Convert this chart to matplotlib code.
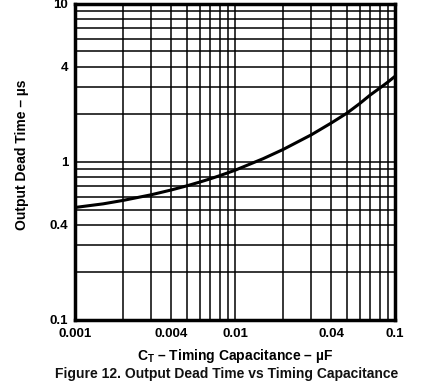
import matplotlib
matplotlib.use("Agg")
from matplotlib import pyplot as plt
from matplotlib.ticker import FixedLocator, LogLocator, NullFormatter

plt.rcParams['font.family'] = ['Liberation Sans', 'DejaVu Sans']
plt.rcParams['mathtext.fontset'] = 'custom'
plt.rcParams['mathtext.rm'] = 'Liberation Sans:bold'
plt.rcParams['mathtext.bf'] = 'Liberation Sans:bold'

# values
cap_uf = [0.001, 0.0015, 0.002, 0.003, 0.004, 0.005, 0.006, 0.007, 0.008,
          0.009, 0.01, 0.015, 0.02, 0.03, 0.04, 0.05, 0.06, 0.07, 0.08, 0.09, 0.1]
dead_us = [0.515, 0.543, 0.571, 0.620, 0.665, 0.706, 0.745, 0.782, 0.818,
           0.853, 0.886, 1.049, 1.200, 1.486, 1.766, 2.036, 2.338, 2.655, 2.927,
           3.199, 3.486]

x_ticks = [0.001, 0.004, 0.01, 0.04, 0.1]
x_labels = ['0.001', '0.004', '0.01', '0.04', '0.1']
y_ticks = [0.1, 0.4, 1, 4, 10]
y_labels = ['0.1', '0.4', '1', '4', '10']

fig = plt.figure(figsize=(4.41, 3.86), dpi=100)
ax = fig.add_axes([0.170, 0.171, 0.726, 0.819])

ax.plot(cap_uf, dead_us, color='black', lw=2.2, solid_joinstyle='round', zorder=3)

ax.set_xscale('log')
ax.set_yscale('log')
ax.set_xlim(0.001, 0.1)
ax.set_ylim(0.1, 10)

ax.xaxis.set_major_locator(FixedLocator(x_ticks))
ax.yaxis.set_major_locator(FixedLocator(y_ticks))
ax.set_xticklabels(x_labels)
ax.set_yticklabels(y_labels)
ax.xaxis.set_minor_locator(LogLocator(base=10, subs=range(1, 10)))
ax.yaxis.set_minor_locator(LogLocator(base=10, subs=range(1, 10)))
ax.xaxis.set_minor_formatter(NullFormatter())
ax.yaxis.set_minor_formatter(NullFormatter())

ax.grid(True, which='both', color='black', lw=1.1)
ax.tick_params(which='both', length=0)
ax.tick_params(axis='x', pad=6, labelsize=9.5)
ax.tick_params(axis='y', pad=5, labelsize=9.5)
for lab in ax.get_xticklabels() + ax.get_yticklabels():
    lab.set_fontweight('bold')
for sp in ax.spines.values():
    sp.set_linewidth(2.5)
    sp.set_zorder(4)

fig.text(22 / 441, 1 - 155 / 386, 'Output Dead Time – µs', rotation=90,
         ha='center', va='center', fontsize=10, fontweight='bold')
ax.set_xlabel(r'C$_{\mathrm{T}}$ – Timing Capacitance – µF', fontsize=10,
              fontweight='bold', labelpad=5)
fig.text(0.515, 0.012, 'Figure 12. Output Dead Time vs Timing Capacitance',
         ha='center', va='bottom', fontsize=10, fontweight='bold', color='#111111')

fig.savefig('out.png', dpi=100)
